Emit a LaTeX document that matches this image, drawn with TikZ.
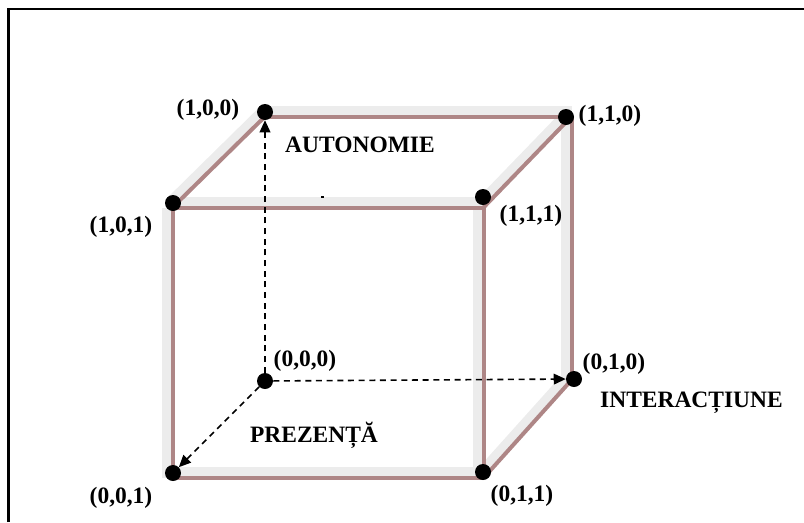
\documentclass[tikz,border=0pt]{standalone}
\usepackage{fontspec}
\setmainfont{Liberation Serif}
\usetikzlibrary{arrows.meta}
\definecolor{edgeband}{RGB}{236,236,236}
\definecolor{edgerim}{RGB}{174,134,134}
\begin{document}
\begin{tikzpicture}[x=0.75pt,y=-0.75pt,
  vertex/.style={circle,fill=black,inner sep=0pt,minimum size=12pt},
  coordlabel/.style={anchor=base,inner sep=0pt,font=\fontsize{17.6}{20}\selectfont\bfseries},
  axislabel/.style={coordlabel},
  band/.style={draw=edgeband,line width=6.8pt,line cap=square},
  rim/.style={draw=edgerim,line width=3pt},
  bandH/.style={band,transform canvas={yshift=4.5pt}},
  bandV/.style={band,transform canvas={xshift=-4.5pt}},
  bandD/.style={band,transform canvas={xshift=-3.2pt,yshift=3.2pt}},
  axis/.style={draw=black,line width=1.2pt,dash pattern=on 4.5pt off 3.5pt,
    -{Triangle[length=9pt,width=8pt]}},
]
\useasboundingbox (0,0) rectangle (804,522);
% page frame (left and top rules)
\draw[line width=1.9pt] (8.5,522) -- (8.5,9) -- (804,9);

% corners of the cube frame
\coordinate (c100) at (265,116.5);
\coordinate (c110) at (571.5,116.5);
\coordinate (c010) at (571.5,380);
\coordinate (c101) at (172.5,207.5);
\coordinate (c111) at (483.5,207.5);
\coordinate (c001) at (172.5,478);
\coordinate (c011) at (483.5,478);

% light band of each edge
\draw[bandH] (c100) -- (c110);
\draw[bandH] (c101) -- (c111);
\draw[bandH] (c001) -- (c011);
\draw[bandV] (c110) -- (c010);
\draw[bandV] (c111) -- (c011);
\draw[bandV] (c101) -- (c001);
\draw[bandD] (c101) -- (c100);
\draw[bandD] (c111) -- (c110);
\draw[bandD] (c011) -- (c010);
% darker rim of each edge
\draw[rim] (c100) -- (c110);
\draw[rim] (c101) -- (c111);
\draw[rim] (c001) -- (c011);
\draw[rim] (c110) -- (c010);
\draw[rim] (c111) -- (c011);
\draw[rim] (c101) -- (c001);
\draw[rim] (c101) -- (c100);
\draw[rim] (c111) -- (c110);
\draw[rim] (c011) -- (c010);

% vertices
\node[vertex] (p100) at (265,112) {};
\node[vertex] (p110) at (566,117) {};
\node[vertex] (p101) at (173,203) {};
\node[vertex] (p111) at (483,197) {};
\node[vertex] (p000) at (265,381) {};
\node[vertex] (p010) at (574,379) {};
\node[vertex] (p001) at (173,473) {};
\node[vertex] (p011) at (483,472) {};

% axes from the origin
\draw[axis] (p000) -- (p100);
\draw[axis] (p000) -- (p010);
\draw[axis] (p000) -- (p001);

% stray mark
\fill (321,195.5) rectangle (323.5,198);

% vertex labels
\node[coordlabel] (l100) at (208,115) {(1,0,0)};
\node[coordlabel] (l110) at (610,121) {(1,1,0)};
\node[coordlabel] (l101) at (121,232) {(1,0,1)};
\node[coordlabel] (l111) at (531,221) {(1,1,1)};
\node[coordlabel] (l000) at (305,366) {(0,0,0)};
\node[coordlabel] (l010) at (614,369) {(0,1,0)};
\node[coordlabel] (l001) at (121,503) {(0,0,1)};
\node[coordlabel] (l011) at (522,501) {(0,1,1)};

% axis names
\node[axislabel] (autonomie) at (360,152) {AUTONOMIE};
\node[axislabel] (interactiune) at (691.5,407) {INTERACȚIUNE};
\node[axislabel] (prezenta) at (314,442) {PREZENȚĂ};
\end{tikzpicture}
\end{document}
